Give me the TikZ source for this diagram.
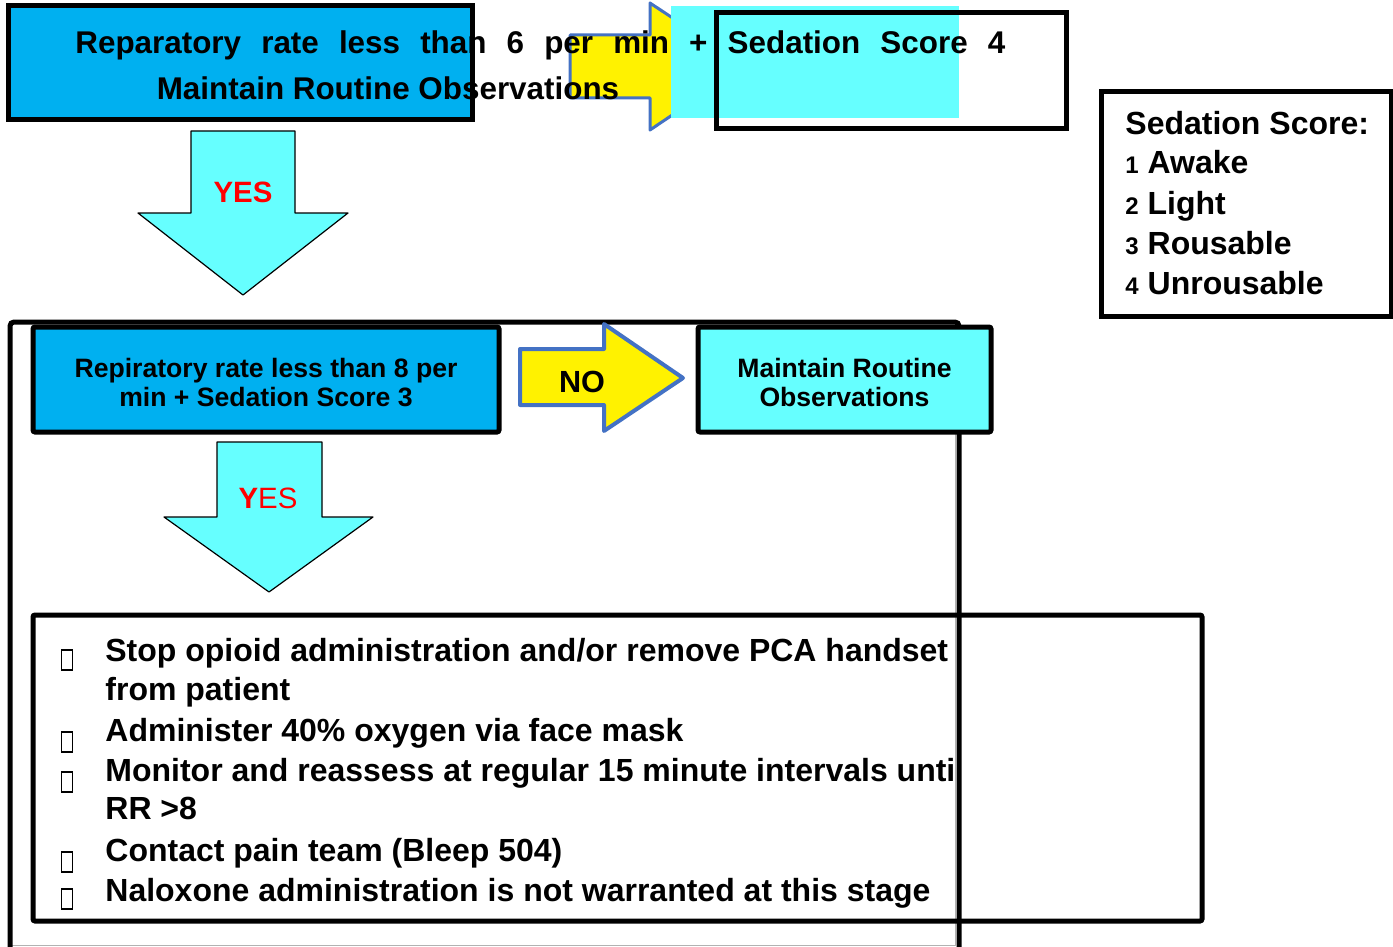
\documentclass[tikz,border=0pt]{standalone}
\usepackage{fontspec}
\setmainfont{Liberation Sans}
\usetikzlibrary{positioning}
\definecolor{boxblue}{HTML}{00B0F0}
\definecolor{boxcyan}{HTML}{66FFFF}
\definecolor{arrowedge}{HTML}{4472C4}

\begin{document}
\begin{tikzpicture}[x=0.5pt,y=-0.5pt,
		box/.style={rectangle,draw=black,line width=2.5pt,inner sep=0pt,rounded corners=1pt},
		bluebox/.style={box,fill=boxblue},
		cyanbox/.style={box,fill=boxcyan},
		toptxt/.style={font=\bfseries\fontsize{15.7}{18}\selectfont,inner sep=0pt},
		midtxt/.style={font=\bfseries\fontsize{13.3}{14.5}\selectfont,align=center},
		txt/.style={font=\bfseries\fontsize{16}{19}\selectfont,anchor=base west,inner sep=0pt},
		yes/.style={font=\bfseries\fontsize{14.7}{16}\selectfont,text=red},
		rarrow/.style={draw=arrowedge,line width=2pt,fill=yellow,line join=round},
		downarrow/.style={draw=black,line width=0.6pt,fill=boxcyan,line join=round},
		tofu/.style={rectangle,draw=black,line width=0.6pt,minimum width=5.5pt,minimum height=10pt,inner sep=0pt}]
		\useasboundingbox (0,0) rectangle (1393,947);
		
		\node[bluebox,rounded corners=0pt,minimum width=232pt,minimum height=57pt] (rr6) at (240,63) {};
		\draw[rarrow,line width=1.5pt] (570,35) -- (650,35) -- (650,3) -- (745,66) -- (650,130) -- (650,98) -- (570,98) -- cycle;
		\node[fill=boxcyan,inner sep=0pt,minimum width=144pt,minimum height=56pt] (patch) at (815,62) {};
		\node[box,rounded corners=0pt,minimum width=175pt,minimum height=58pt] (sed4) at (891,71) {};
		\node[toptxt,anchor=base west] (line1) at (75,54) {\makebox[465pt][s]{Reparatory rate less than 6 per min + Sedation Score 4}};
		\node[toptxt,anchor=base] (line2) at (388,100) {Maintain Routine Observations};
		
		\node[box,rounded corners=0pt,minimum width=145pt,minimum height=112pt] (legend) at (1246,204) {};
		\node[txt] (lhead) at (1125,134) {Sedation Score:};
		\node[txt] (l1) at (1125,174) {{\fontsize{12}{14}\selectfont 1} Awake};
		\node[txt] (l2) at (1125,214) {{\fontsize{12}{14}\selectfont 2} Light};
		\node[txt] (l3) at (1125,254) {{\fontsize{12}{14}\selectfont 3} Rousable};
		\node[txt] (l4) at (1125,294) {{\fontsize{12}{14}\selectfont 4} Unrousable};
		
		\draw[downarrow] (191,131) -- (295,131) -- (295,213) -- (348,213) -- (243,295) -- (138,213) -- (191,213) -- cycle;
		\node[yes] (yes1) at (243,192) {YES};
		
		\draw[gray!60,line width=0.5pt] (12,945) -- (955,945) -- (955,322);
		\draw[line width=2.5pt,rounded corners=2pt] (10,947) -- (10,322) -- (959,322) -- (959,947);
		
		\node[bluebox,minimum width=233pt,minimum height=52.5pt] (rr8) at (266,379.5) {};
		\node[midtxt] (rr8txt) at ([yshift=-1.5pt]rr8.center) {Repiratory rate less than 8 per\\min + Sedation Score 3};
		\draw[rarrow] (520,349) -- (604,349) -- (604,324) -- (683,378) -- (604,431) -- (604,405) -- (520,405) -- cycle;
		\node[font=\bfseries\fontsize{15.3}{17}\selectfont] (no) at (582,382) {NO};
		\node[cyanbox,minimum width=146.5pt,minimum height=52.5pt] (routine) at (844.5,379.5) {};
		\node[midtxt] (routinetxt) at ([yshift=-1.5pt]routine.center) {Maintain Routine\\Observations};
		
		\draw[downarrow] (217,442) -- (322,442) -- (322,517) -- (373,517) -- (269,592) -- (164,517) -- (217,517) -- cycle;
		\node[yes] (yes2) at (268,498) {Y\mdseries ES};
		
		\node[box,minimum width=584.5pt,minimum height=153pt] (actions) at (617.5,768) {};
		\foreach \y in {660,742,782,862,899}
			\node[tofu] (bul\y) at (67,\y) {};
		\begin{scope}
			\clip (0,600) rectangle (955,947);
			\node[txt] (a1) at (105,661) {Stop opioid administration and/or remove PCA handset};
			\node[txt] (a1b) at (105,700) {from patient};
			\node[txt] (a2) at (105,741) {Administer 40\% oxygen via face mask};
			\node[txt] (a3) at (105,781) {Monitor and reassess at regular 15 minute intervals until};
			\node[txt] (a3b) at (105,819) {RR >8};
			\node[txt] (a4) at (105,861) {Contact pain team (Bleep 504)};
			\node[txt] (a5) at (105,901) {Naloxone administration is not warranted at this stage};
		\end{scope}
\end{tikzpicture}
\end{document}
